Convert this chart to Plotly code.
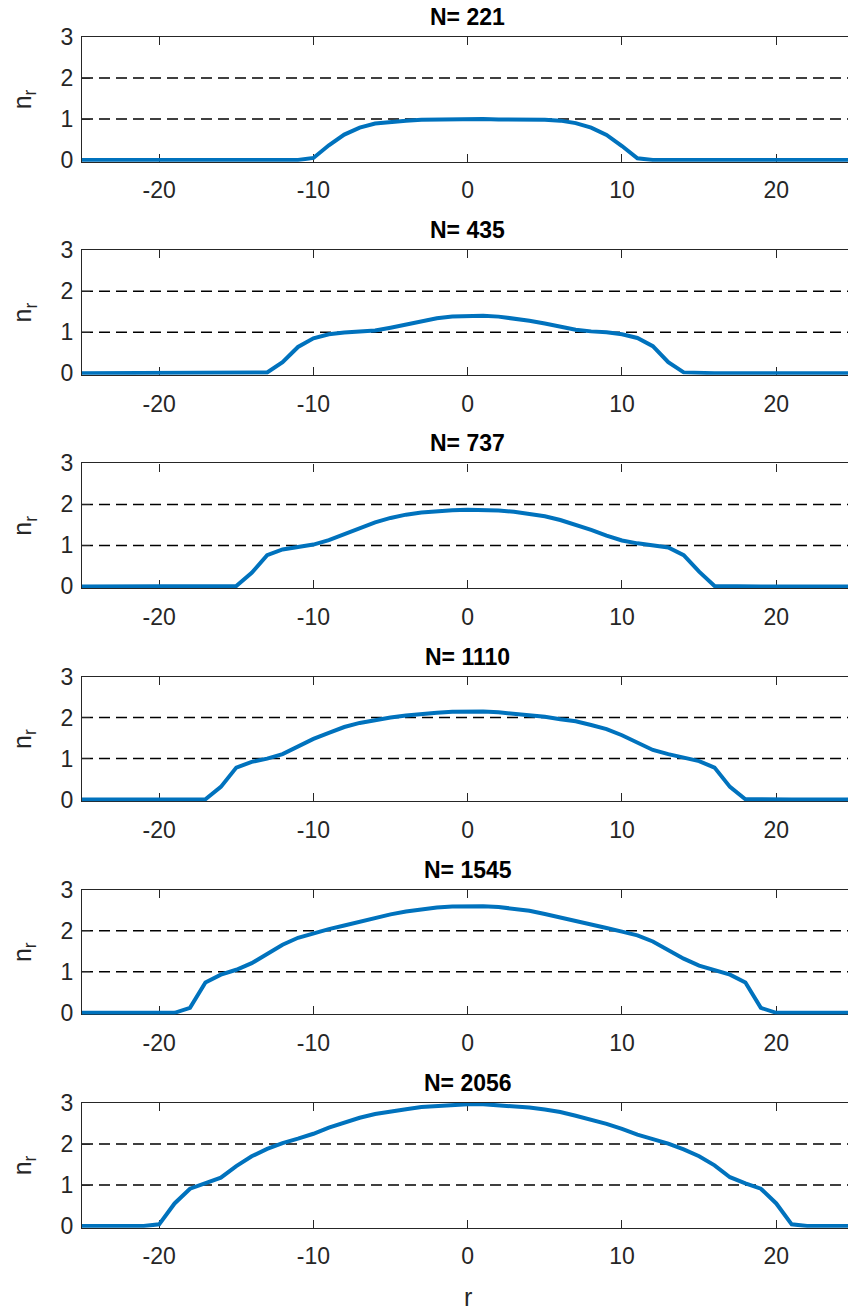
import plotly.graph_objects as go

# ---------------- data ----------------
r = list(range(-25, 26))

titles = ["N= 221", "N= 435", "N= 737", "N= 1110", "N= 1545", "N= 2056"]

def pad(core, start):
    """place core values (starting at r=start) into the -25..25 grid, zeros elsewhere"""
    out = [0.0] * len(r)
    for i, v in enumerate(core):
        out[start + 25 + i] = v
    return out

n221_core = [0.0, 0.05, 0.36, 0.62, 0.79, 0.89, 0.93, 0.96, 0.98, 0.99, 0.99, 1.0,
             1.0, 0.99, 0.99, 0.99, 0.98, 0.96, 0.90, 0.79, 0.61, 0.34, 0.04, 0.0]
n221 = pad(n221_core, -11)

n435_core = [0.02, 0.27, 0.64, 0.85, 0.95, 0.99, 1.02, 1.04, 1.11, 1.19, 1.28, 1.34,
             1.38, 1.40, 1.40, 1.38, 1.34, 1.28, 1.21, 1.13, 1.06, 1.02, 1.0, 0.95,
             0.86, 0.66, 0.27, 0.02]
n435 = pad(n435_core, -13)

n737_core = [0.01, 0.33, 0.76, 0.90, 0.97, 1.02, 1.13, 1.28, 1.43, 1.56, 1.67, 1.75,
             1.80, 1.84, 1.86, 1.87, 1.87, 1.85, 1.82, 1.77, 1.71, 1.62, 1.51, 1.38,
             1.24, 1.12, 1.05, 1.0, 0.95, 0.76, 0.36, 0.01]
n737 = pad(n737_core, -15)

n1110_core = [0.01, 0.31, 0.78, 0.92, 1.0, 1.11, 1.29, 1.48, 1.63, 1.77, 1.87, 1.94,
              2.0, 2.05, 2.09, 2.12, 2.14, 2.15, 2.15, 2.13, 2.10, 2.07, 2.02, 1.96,
              1.91, 1.82, 1.72, 1.57, 1.38, 1.21, 1.11, 1.03, 0.94, 0.78, 0.31, 0.01]
n1110 = pad(n1110_core, -17)

n1545_core = [0.0, 0.0, 0.12, 0.74, 0.93, 1.05, 1.21, 1.44, 1.66, 1.83, 1.94, 2.04,
              2.13, 2.22, 2.32, 2.40, 2.47, 2.53, 2.57, 2.59, 2.60, 2.60, 2.58, 2.54,
              2.49, 2.41, 2.33, 2.24, 2.16, 2.07, 1.98, 1.89, 1.74, 1.54, 1.32, 1.15,
              1.05, 0.93, 0.74, 0.12, 0.0]
n1545 = pad(n1545_core, -20)

n2056_core = [0.04, 0.55, 0.91, 1.04, 1.18, 1.46, 1.70, 1.88, 2.02, 2.13, 2.25, 2.40,
              2.52, 2.64, 2.73, 2.80, 2.85, 2.90, 2.93, 2.96, 2.97, 2.97, 2.95, 2.93,
              2.89, 2.84, 2.78, 2.69, 2.60, 2.49, 2.37, 2.23, 2.12, 2.01, 1.87, 1.70,
              1.48, 1.19, 1.04, 0.91, 0.55, 0.04]
n2056 = pad(n2056_core, -20)

series = [n221, n435, n737, n1110, n1545, n2056]

ref_levels = [1, 2]
x_ticks = [-20, -10, 0, 10, 20]
x_ticktext = ["-20", "-10", "0", "10", "20"]
y_ticks = [0, 1, 2, 3]
y_ticktext = ["0", "1", "2", "3"]
x_range = [-25, 24.65]
y_range = [-0.04, 3]

# ---------------- layout constants ----------------
W, H = 848, 1313
left_px = 82
top0_px = 37
step_px = 213.2
height_px = 123 * 3.04 / 3.0

blue = "#0072BD"
axcol = "#262626"
font_family = "Liberation Sans Narrow, Liberation Sans, Arial, sans-serif"
fs = 23

fig = go.Figure()
annotations = []
shapes = []

for i, (ys, title) in enumerate(zip(series, titles)):
    k = "" if i == 0 else str(i + 1)
    xa, ya = "x" + k, "y" + k
    top = top0_px + i * step_px
    bot = top + height_px
    dom_y = [1 - bot / H, 1 - top / H]

    fig.add_trace(go.Scatter(x=r, y=ys, mode="lines", xaxis=xa, yaxis=ya,
                             line=dict(color=blue, width=4), showlegend=False))

    for lev in ref_levels:
        shapes.append(dict(type="line", xref=xa + " domain", yref=ya,
                           x0=0, x1=1, y0=lev, y1=lev,
                           line=dict(color="black", width=1.5, dash="11px,6px"),
                           layer="below"))

    axis_common = dict(showline=True, linecolor=axcol, linewidth=1.2,
                       ticks="inside", tickcolor=axcol, ticklen=8, tickwidth=1.2,
                       showgrid=False, zeroline=False, automargin=False,
                       layer="below traces",
                       tickfont=dict(family=font_family, size=fs, color=axcol))
    fig.update_layout(**{
        ("xaxis" + k): dict(domain=[left_px / W, 1], range=x_range,
                            tickvals=x_ticks, ticktext=x_ticktext,
                            mirror="ticks", anchor=ya,
                            ticklabelstandoff=8, **axis_common),
        ("yaxis" + k): dict(domain=dom_y, range=y_range, tickvals=y_ticks,
                            ticktext=y_ticktext,
                            anchor=xa, ticklabelstandoff=3, **axis_common),
    })

    annotations.append(dict(text="<b>" + title + "</b>", xref=xa, x=0,
                            yref="paper", y=1 - (top - 20) / H,
                            xanchor="center", yanchor="middle", showarrow=False,
                            font=dict(family=font_family, size=fs, color="black")))
    annotations.append(dict(text="n<sub>r</sub>", xref="paper", x=24 / W,
                            yref="paper", y=1 - (top + height_px / 2) / H,
                            xanchor="center", yanchor="middle", textangle=-90,
                            showarrow=False,
                            font=dict(family=font_family, size=fs + 2, color=axcol)))

annotations.append(dict(text="r", xref="x6", x=0, yref="paper", y=1 - 1297 / H,
                        xanchor="center", yanchor="middle", showarrow=False,
                        font=dict(family=font_family, size=fs + 2, color=axcol)))

fig.update_layout(template="none", width=W, height=H,
                  margin=dict(l=0, r=0, t=0, b=0, pad=0, autoexpand=False),
                  paper_bgcolor="white", plot_bgcolor="white",
                  annotations=annotations, shapes=shapes, showlegend=False)

fig.write_html("out.html")
